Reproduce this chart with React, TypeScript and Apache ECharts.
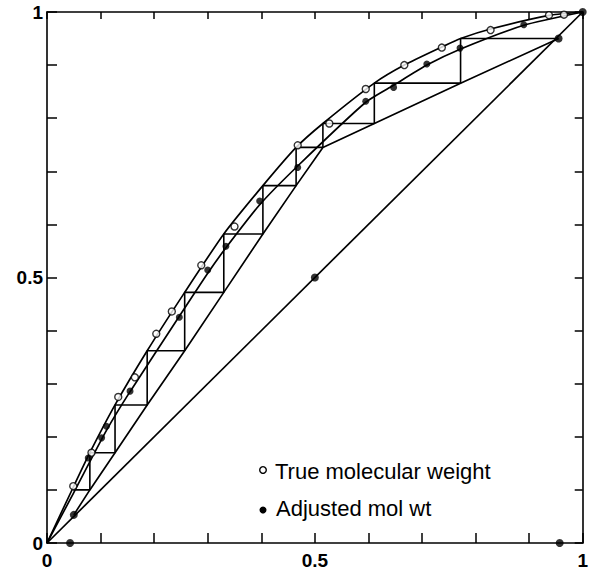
import React, { useEffect, useRef } from "react";
import * as echarts from "echarts";

// Diagonal y = x
const diagonal: number[][] = [[0, 0], [1, 1]];

// Equilibrium curve, true molecular weight (upper curve)
const trueCurve: number[][] = [
  [0, 0], [0.049, 0.105], [0.08, 0.17], [0.127, 0.26], [0.187, 0.362],
  [0.257, 0.472], [0.33, 0.582], [0.403, 0.673], [0.465, 0.745], [0.515, 0.79],
  [0.611, 0.866], [0.667, 0.9], [0.737, 0.934], [0.772, 0.95], [0.828, 0.968],
  [0.94, 0.994], [1, 1],
];

// Equilibrium curve, adjusted molecular weight (lower curve)
const adjCurve: number[][] = [
  [0, 0], [0.05, 0.095], [0.111, 0.212], [0.155, 0.285], [0.247, 0.427],
  [0.3, 0.508], [0.334, 0.556], [0.397, 0.637], [0.468, 0.71], [0.595, 0.83],
  [0.647, 0.862], [0.709, 0.9], [0.771, 0.93], [0.89, 0.975], [1, 1],
];

// Operating lines (rectifying + stripping), through the step bottoms
const operatingLine: number[][] = [
  [0.955, 0.95], [0.772, 0.866], [0.611, 0.79], [0.515, 0.745], [0.465, 0.673],
  [0.403, 0.582], [0.33, 0.472], [0.257, 0.362], [0.187, 0.26], [0.127, 0.17],
  [0.08, 0.1], [0.05, 0.053],
];

// Stage steps: x where each horizontal meets the equilibrium curve, and its level
const stepX: number[] = [0.772, 0.611, 0.515, 0.465, 0.403, 0.33, 0.257, 0.187, 0.127, 0.08, 0.049];
const stepY: number[] = [0.95, 0.866, 0.79, 0.745, 0.673, 0.582, 0.472, 0.362, 0.26, 0.17, 0.1];
const stepStart: number[] = [0.955, 0.95];

// Data points
const truePoints: number[][] = [
  [0.049, 0.107], [0.083, 0.17], [0.133, 0.275], [0.164, 0.312], [0.204, 0.394],
  [0.233, 0.436], [0.288, 0.523], [0.35, 0.596], [0.468, 0.749], [0.527, 0.79],
  [0.595, 0.855], [0.667, 0.9], [0.737, 0.933], [0.828, 0.966], [0.937, 0.994],
  [0.965, 0.995],
];
const adjPoints: number[][] = [
  [0.077, 0.16], [0.102, 0.198], [0.111, 0.22], [0.155, 0.286], [0.247, 0.425],
  [0.3, 0.514], [0.334, 0.559], [0.397, 0.644], [0.468, 0.707], [0.595, 0.832],
  [0.647, 0.858], [0.709, 0.902], [0.771, 0.932], [0.89, 0.976],
];
// Composition markers (bottoms, feed, distillate, end)
const markerPoints: number[][] = [
  [0.05, 0.053], [0.5, 0.5], [0.955, 0.95], [0.043, 0], [0.957, 0], [1, 1],
];

const tickLabels: Record<number, string> = { 0: "0", 5: "0.5", 10: "1" };
const legendLabels: string[] = ["True molecular weight", "Adjusted mol wt"];

const FONT = "'Liberation Sans', Arial, Helvetica, sans-serif";

function buildSteps(): number[][] {
  const pts: number[][] = [stepStart];
  for (let i = 0; i < stepX.length; i++) {
    pts.push([stepX[i], stepY[i]]);
    if (i + 1 < stepY.length) pts.push([stepX[i], stepY[i + 1]]);
  }
  return pts;
}

const labelFormatter = (v: number) => {
  const k = Math.round(v * 10);
  return tickLabels[k] ?? "";
};

export default function App() {
  const ref = useRef<HTMLDivElement>(null);
  useEffect(() => {
    if (!ref.current) return;
    const chart = echarts.init(ref.current, undefined, { renderer: "svg" });
    const lineBase = {
      type: "line" as const,
      showSymbol: false,
      symbol: "none",
      lineStyle: { color: "#000", width: 1.7 },
      silent: true,
      z: 2,
    };
    const axisCommon = {
      type: "value" as const,
      min: 0,
      max: 1,
      interval: 0.1,
      axisLine: { show: true, onZero: false, lineStyle: { color: "#000", width: 1.6 } },
      splitLine: { show: false },
    };
    chart.setOption({
      animation: false,
      backgroundColor: "#fff",
      grid: { left: 47, right: 7, top: 12, bottom: 26, containLabel: false },
      xAxis: [
        {
          ...axisCommon,
          position: "bottom",
          axisTick: { show: true, inside: true, length: 10, lineStyle: { color: "#000", width: 1.5 } },
          axisLabel: {
            formatter: labelFormatter,
            color: "#000",
            fontSize: 19,
            fontWeight: "bold",
            fontFamily: FONT,
            margin: 8,
          },
        },
        {
          ...axisCommon,
          position: "top",
          axisTick: { show: true, inside: true, length: 7, lineStyle: { color: "#000", width: 1.5 } },
          axisLabel: { show: false },
        },
      ],
      yAxis: [
        {
          ...axisCommon,
          position: "left",
          axisTick: { show: true, inside: true, length: 10, lineStyle: { color: "#000", width: 1.5 } },
          axisLabel: {
            formatter: labelFormatter,
            color: "#000",
            fontSize: 19,
            fontWeight: "bold",
            fontFamily: FONT,
            margin: 4,
          },
        },
        {
          ...axisCommon,
          position: "right",
          axisTick: { show: true, inside: true, length: 8, lineStyle: { color: "#000", width: 1.5 } },
          axisLabel: { show: false },
        },
      ],
      series: [
        { ...lineBase, name: "diagonal", data: diagonal },
        { ...lineBase, name: "true eq", data: trueCurve, smooth: 0.2 },
        { ...lineBase, name: "adjusted eq", data: adjCurve, smooth: 0.2 },
        { ...lineBase, name: "operating", data: operatingLine },
        { ...lineBase, name: "steps", data: buildSteps(), lineStyle: { color: "#000", width: 1.6 } },
        {
          type: "scatter",
          name: legendLabels[0],
          data: truePoints,
          symbol: "circle",
          symbolSize: 7,
          itemStyle: { color: "#fff", borderColor: "#000", borderWidth: 1.4 },
          z: 5,
          silent: true,
        },
        {
          type: "scatter",
          name: legendLabels[1],
          data: adjPoints,
          symbol: "circle",
          symbolSize: 7,
          itemStyle: { color: "#000" },
          z: 5,
          silent: true,
        },
        {
          type: "scatter",
          name: "markers",
          data: markerPoints,
          symbol: "circle",
          symbolSize: 8,
          itemStyle: { color: "#000" },
          clip: false,
          z: 6,
          silent: true,
        },
      ],
      graphic: [
        {
          type: "circle",
          shape: { cx: 263, cy: 470, r: 3.3 },
          style: { fill: "#fff", stroke: "#000", lineWidth: 1.4 },
        },
        {
          type: "text",
          x: 275,
          y: 471,
          style: {
            text: legendLabels[0],
            fill: "#000",
            font: `22px ${FONT}`,
            verticalAlign: "middle",
            align: "left",
          },
        },
        {
          type: "circle",
          shape: { cx: 263, cy: 510, r: 3.5 },
          style: { fill: "#000" },
        },
        {
          type: "text",
          x: 276,
          y: 508,
          style: {
            text: legendLabels[1],
            fill: "#000",
            font: `22px ${FONT}`,
            verticalAlign: "middle",
            align: "left",
          },
        },
      ],
    });
    return () => chart.dispose();
  }, []);
  return (
    <div
      ref={ref}
      style={{ position: "fixed", left: 0, top: 0, width: 591, height: 570, background: "#fff" }}
    />
  );
}
